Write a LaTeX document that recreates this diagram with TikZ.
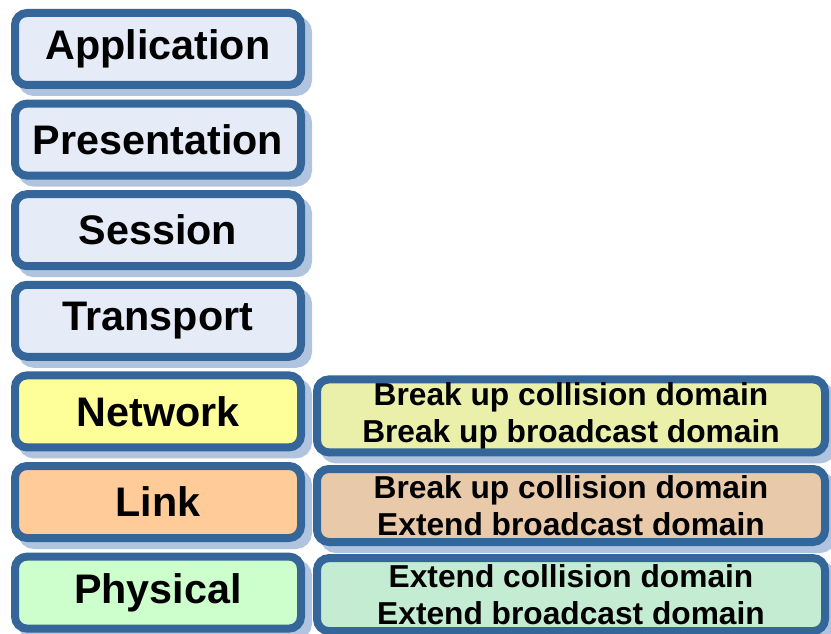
\documentclass[tikz,border=0pt]{standalone}
\usepackage{fontspec}
\setmainfont{Liberation Sans}
\definecolor{bordc}{RGB}{52,102,153}
\definecolor{shadowc}{RGB}{176,196,224}
\definecolor{topfill}{RGB}{230,236,247}
\definecolor{netfill}{RGB}{255,255,153}
\definecolor{linkfill}{RGB}{255,204,153}
\definecolor{physfill}{RGB}{204,255,204}
\definecolor{rnetfill}{RGB}{234,240,170}
\definecolor{rlinkfill}{RGB}{232,202,170}
\definecolor{rphysfill}{RGB}{196,236,210}
\tikzset{
  layerbox/.style={rounded corners=12pt, draw=bordc, line width=8pt, inner sep=0pt,
    preaction={draw=shadowc, fill=shadowc, transform canvas={shift={(7pt,-7pt)}}}},
  leftbox/.style={layerbox, minimum width=286pt, minimum height=72pt,
    font=\fontsize{41.3}{48}\selectfont\bfseries},
  rightbox/.style={layerbox, minimum width=508pt, minimum height=73pt, align=center,
    font=\fontsize{31.7}{37}\selectfont\bfseries}
}
\begin{document}
\begin{tikzpicture}[x=1pt,y=1pt]
\useasboundingbox (0,0) rectangle (831,-634);
\node[leftbox, fill=topfill] (app) at (158,-49) {Application};
\node[leftbox, fill=topfill] (pres) at (158,-139.6) {Presentation};
\node[leftbox, fill=topfill] (sess) at (158,-230.2) {Session};
\node[leftbox, fill=topfill] (trans) at (158,-320.8) {Transport};
\node[leftbox, fill=netfill] (net) at (158,-411.4) {Network};
\node[leftbox, fill=linkfill] (link) at (158,-502) {Link};
\node[leftbox, fill=physfill] (phys) at (158,-592.6) {Physical};
\node[rightbox, fill=rnetfill] (rnet) at (571,-415.9) {Break up collision domain\\Break up broadcast domain};
\node[rightbox, fill=rlinkfill] (rlink) at (571,-505.5) {Break up collision domain\\Extend broadcast domain};
\node[rightbox, fill=rphysfill] (rphys) at (571,-594.6) {Extend collision domain\\Extend broadcast domain};
\end{tikzpicture}
\end{document}
